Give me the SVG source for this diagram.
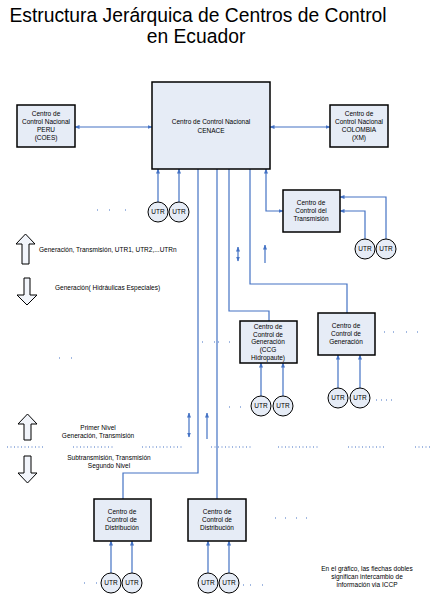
<svg xmlns="http://www.w3.org/2000/svg" width="432" height="607" viewBox="0 0 432 607">
<style>
.box{fill:#e6ecf6;stroke:#000;stroke-width:1.5}
.utr{fill:#e6ecf6;stroke:#000;stroke-width:1}
.t{font-family:"Liberation Sans",Arial,sans-serif;font-size:6.5px;fill:#000;text-anchor:middle}
.tl{font-family:"Liberation Sans",Arial,sans-serif;font-size:6.5px;fill:#000}
.title{font-family:"Liberation Sans",Arial,sans-serif;font-size:19.3px;fill:#000;text-anchor:middle}
.c{fill:none;stroke:#4472c4;stroke-width:1.2}
.dot{stroke:#4472c4;stroke-width:1.2;stroke-dasharray:1 2.5;fill:none}
.blk{fill:#f2f5fb;stroke:#000;stroke-width:1}
.d{fill:#4472c4}
</style>
<defs>
<marker id="ah" viewBox="0 0 10 10" refX="9" refY="5" markerWidth="5" markerHeight="5" markerUnits="userSpaceOnUse" orient="auto-start-reverse">
<path d="M0,1 L10,5 L0,9 z" fill="#4472c4"/>
</marker>
</defs>
<rect width="432" height="607" fill="#fff"/>
<text class="title" x="198" y="22">Estructura Jerárquica de Centros de Control</text>
<text class="title" x="196" y="43">en Ecuador</text>

<g id="connectors">
<line class="c" x1="75" y1="127" x2="152" y2="127" marker-start="url(#ah)" marker-end="url(#ah)"/>
<line class="c" x1="270" y1="127" x2="330" y2="127" marker-start="url(#ah)" marker-end="url(#ah)"/>
<line class="c" x1="158" y1="202" x2="158" y2="169" marker-end="url(#ah)"/>
<line class="c" x1="179" y1="202" x2="179" y2="169" marker-end="url(#ah)"/>
<polyline class="c" points="266,169 266,211 283,211" marker-start="url(#ah)" marker-end="url(#ah)"/>
<polyline class="c" points="365,239 365,211 340,211" marker-end="url(#ah)"/>
<polyline class="c" points="386,239 386,197 340,197" marker-end="url(#ah)"/>
<polyline class="c" points="198,169 198,473 123,473 123,499"/>
<line class="c" x1="217" y1="169" x2="217" y2="499"/>
<polyline class="c" points="229,169 229,311 269,311 269,321"/>
<polyline class="c" points="250,169 250,284 347,284 347,313"/>
<line class="c" x1="238" y1="247" x2="238" y2="261" marker-start="url(#ah)" marker-end="url(#ah)"/>
<line class="c" x1="265" y1="263" x2="265" y2="245" marker-end="url(#ah)"/>
<line class="c" x1="189" y1="413" x2="189" y2="437" marker-start="url(#ah)" marker-end="url(#ah)"/>
<line class="c" x1="207" y1="439" x2="207" y2="413" marker-end="url(#ah)"/>
<line class="c" x1="338" y1="388" x2="338" y2="355" marker-end="url(#ah)"/>
<line class="c" x1="360" y1="388" x2="360" y2="355" marker-end="url(#ah)"/>
<line class="c" x1="261" y1="396" x2="261" y2="363" marker-end="url(#ah)"/>
<line class="c" x1="283" y1="396" x2="283" y2="363" marker-end="url(#ah)"/>
<line class="c" x1="111" y1="573" x2="111" y2="541" marker-end="url(#ah)"/>
<line class="c" x1="132" y1="573" x2="132" y2="541" marker-end="url(#ah)"/>
<line class="c" x1="208" y1="573" x2="208" y2="541" marker-end="url(#ah)"/>
<line class="c" x1="229" y1="573" x2="229" y2="541" marker-end="url(#ah)"/>
</g>

<g id="peru"><rect class="box" x="17" y="105" width="58" height="42"/>
<text class="t" x="46" y="116">Centro de</text><text class="t" x="46" y="124">Control Nacional</text><text class="t" x="46" y="132">PERU</text><text class="t" x="46" y="140">(COES)</text></g>
<g id="cenace"><rect class="box" x="152" y="82" width="118" height="87"/>
<text class="t" x="211" y="124">Centro de Control Nacional</text><text class="t" x="211" y="133">CENACE</text></g>
<g id="colombia"><rect class="box" x="330" y="105" width="58" height="42"/>
<text class="t" x="359" y="116">Centro de</text><text class="t" x="359" y="124">Control Nacional</text><text class="t" x="359" y="132">COLOMBIA</text><text class="t" x="359" y="140">(XM)</text></g>
<g id="transmision"><rect class="box" x="283" y="190" width="57" height="42"/>
<text class="t" x="311" y="205">Centro de</text><text class="t" x="311" y="213">Control del</text><text class="t" x="311" y="221">Transmisión</text></g>
<g id="ccg"><rect class="box" x="240" y="321" width="57" height="42"/>
<text class="t" x="268" y="329">Centro de</text><text class="t" x="268" y="337">Control de</text><text class="t" x="268" y="344">Generación</text><text class="t" x="268" y="352">(CCG</text><text class="t" x="268" y="360">Hidropaute)</text></g>
<g id="generacion"><rect class="box" x="318" y="313" width="57" height="42"/>
<text class="t" x="346" y="328">Centro de</text><text class="t" x="346" y="336">Control de</text><text class="t" x="346" y="344">Generación</text></g>
<g id="dist1"><rect class="box" x="94" y="499" width="57" height="42"/>
<text class="t" x="122" y="514">Centro de</text><text class="t" x="122" y="522">Control de</text><text class="t" x="122" y="530">Distribución</text></g>
<g id="dist2"><rect class="box" x="188" y="499" width="58" height="42"/>
<text class="t" x="217" y="514">Centro de</text><text class="t" x="217" y="522">Control de</text><text class="t" x="217" y="530">Distribución</text></g>

<g id="utrs">
<circle class="utr" cx="158" cy="212" r="10"/><text class="t" x="158" y="214">UTR</text>
<circle class="utr" cx="179" cy="212" r="10"/><text class="t" x="179" y="214">UTR</text>
<circle class="utr" cx="365" cy="249" r="10"/><text class="t" x="365" y="251">UTR</text>
<circle class="utr" cx="386" cy="249" r="10"/><text class="t" x="386" y="251">UTR</text>
<circle class="utr" cx="338" cy="398" r="10"/><text class="t" x="338" y="400">UTR</text>
<circle class="utr" cx="360" cy="398" r="10"/><text class="t" x="360" y="400">UTR</text>
<circle class="utr" cx="261" cy="406" r="10"/><text class="t" x="261" y="408">UTR</text>
<circle class="utr" cx="283" cy="406" r="10"/><text class="t" x="283" y="408">UTR</text>
<circle class="utr" cx="111" cy="583" r="10"/><text class="t" x="111" y="585">UTR</text>
<circle class="utr" cx="132" cy="583" r="10"/><text class="t" x="132" y="585">UTR</text>
<circle class="utr" cx="208" cy="583" r="10"/><text class="t" x="208" y="585">UTR</text>
<circle class="utr" cx="229" cy="583" r="10"/><text class="t" x="229" y="585">UTR</text>
</g>

<g id="legend">
<polygon class="blk" points="25.5,234 35,244 29,244 29,264 22,264 22,244 16,244"/>
<polygon class="blk" points="24,278 30,278 30,295 37,295 27,305 17,295 24,295"/>
<polygon class="blk" points="27.5,414 37,424 31,424 31,440 24,440 24,424 18,424"/>
<polygon class="blk" points="24,456 31,456 31,473 37,473 27.5,483 18,473 24,473"/>
<text class="tl" x="39" y="252">Generación, Transmisión, UTR1, UTR2,...UTRn</text>
<text class="tl" x="55" y="290">Generación( Hidráulicas Especiales)</text>
<text class="t" x="98" y="430">Primer Nivel</text>
<text class="t" x="98" y="438">Generación, Transmisión</text>
<text class="t" x="109" y="460">Subtransmisión, Transmisión</text>
<text class="t" x="109" y="468">Segundo Nivel</text>
<text class="t" x="367" y="571">En el gráfico, las flechas dobles</text>
<text class="t" x="367" y="579">significan intercambio de</text>
<text class="t" x="367" y="587">información via ICCP</text>
</g>

<g id="dots">
<line class="dot" x1="7" y1="447" x2="43" y2="447"/>
<line class="dot" x1="73" y1="447" x2="115" y2="447"/>
<line class="dot" x1="142" y1="447" x2="182" y2="447"/>
<line class="dot" x1="211" y1="447" x2="251" y2="447"/>
<line class="dot" x1="278" y1="447" x2="318" y2="447"/>
<line class="dot" x1="348" y1="447" x2="385" y2="447"/>
<line class="dot" x1="415" y1="447" x2="432" y2="447"/>
<rect class="d" x="97" y="209.5" width="1" height="1"/><rect class="d" x="109" y="209.5" width="1" height="1"/><rect class="d" x="125" y="209.5" width="1" height="1"/>
<rect class="d" x="59" y="357.5" width="1" height="1"/><rect class="d" x="71" y="357.5" width="1" height="1"/>
<rect class="d" x="202" y="341.5" width="1" height="1"/><rect class="d" x="214" y="341.5" width="1" height="1"/><rect class="d" x="218" y="341.5" width="1" height="1"/><rect class="d" x="229" y="341.5" width="1" height="1"/>
<rect class="d" x="384" y="331.5" width="1" height="1"/><rect class="d" x="393" y="331.5" width="1" height="1"/><rect class="d" x="406" y="331.5" width="1" height="1"/><rect class="d" x="417" y="331.5" width="1" height="1"/>
<rect class="d" x="376" y="399.5" width="1" height="1"/><rect class="d" x="381" y="399.5" width="1" height="1"/><rect class="d" x="386" y="399.5" width="1" height="1"/><rect class="d" x="391" y="399.5" width="1" height="1"/>
<rect class="d" x="229" y="406.5" width="1" height="1"/><rect class="d" x="240" y="406.5" width="1" height="1"/>
<rect class="d" x="84" y="582.5" width="1" height="1"/><rect class="d" x="96" y="582.5" width="1" height="1"/>
<rect class="d" x="243" y="584.5" width="1" height="1"/><rect class="d" x="250" y="584.5" width="1" height="1"/><rect class="d" x="262" y="584.5" width="1" height="1"/>
<rect class="d" x="275" y="517.5" width="1" height="1"/><rect class="d" x="285" y="517.5" width="1" height="1"/><rect class="d" x="296" y="517.5" width="1" height="1"/><rect class="d" x="306" y="517.5" width="1" height="1"/>
</g>
</svg>
